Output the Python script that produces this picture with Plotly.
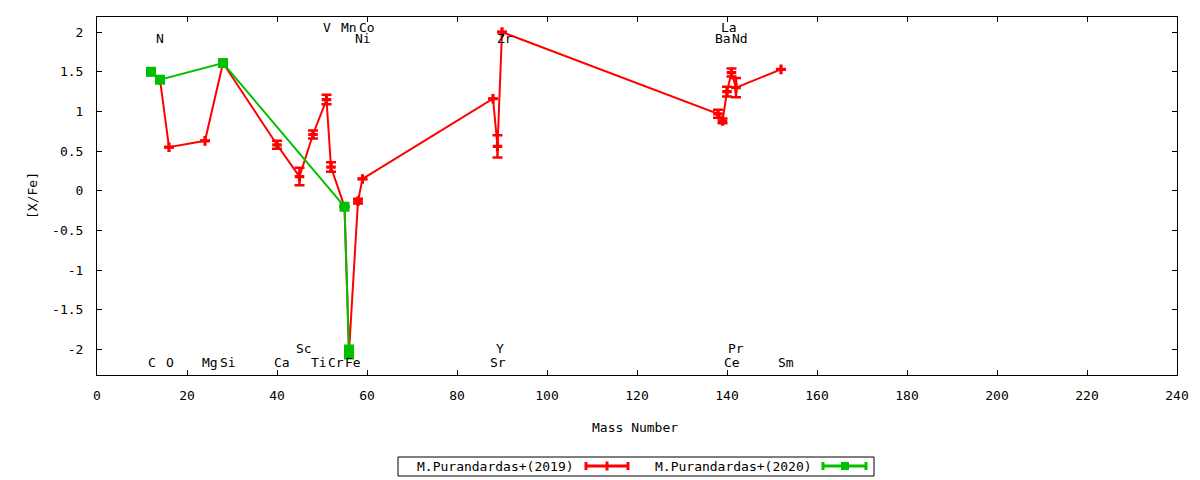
import plotly.graph_objects as go

# ---- data ----
mass_2019 = [12, 14, 16, 24, 28, 40, 45, 48, 51, 52, 55, 56, 58, 59, 88, 89, 90,
             138, 139, 140, 141, 142, 152]
xfe_2019 = [1.50, 1.40, 0.55, 0.63, 1.61, 0.58, 0.18, 0.71, 1.15, 0.30, -0.20, -2.03,
            -0.13, 0.15, 1.16, 0.56, 2.00, 0.97, 0.88, 1.25, 1.49, 1.30, 1.53]
err_2019 = [0.0, 0.0, 0.0, 0.0, 0.0, 0.05, 0.11, 0.05, 0.06, 0.06, 0.0, 0.05,
            0.03, 0.0, 0.0, 0.14, 0.0, 0.05, 0.03, 0.06, 0.05, 0.12, 0.0]

mass_2020 = [12, 14, 28, 55, 56]
xfe_2020 = [1.50, 1.40, 1.61, -0.20, -2.03]
err_2020 = [0.0, 0.0, 0.0, 0.0, 0.08]

# element labels (text, x position in mass units, y position in [X/Fe])
label_text = ["C", "O", "Mg", "Si", "Ca", "Ti", "Cr", "Fe", "Sr", "Ce", "Sm",
              "Sc", "Y", "Pr",
              "V", "Mn", "Co", "La",
              "N", "Ni", "Zr", "Ba", "Nd"]
label_x = [12.2, 16.3, 25.2, 29.1, 41.1, 49.4, 53.2, 56.9, 89.0, 141.0, 153.2,
           45.9, 89.5, 142.1,
           51.2, 56.1, 60.1, 140.5,
           14.1, 59.0, 90.7, 139.0, 142.9]
label_y = [-2.16] * 11 + [-1.99] * 3 + [2.06] * 4 + [1.92] * 5

series_names = ["M.Purandardas+(2019)", "M.Purandardas+(2020)"]
RED = "#ff0000"
GREEN = "#00c000"
FONT = "DejaVu Sans Mono"

fig = go.Figure()

fig.add_trace(go.Scatter(
    x=mass_2019, y=xfe_2019, mode="lines+markers", name=series_names[0],
    line=dict(color=RED, width=2),
    marker=dict(symbol="cross", size=8, color=RED),
    error_y=dict(type="data", array=err_2019, color=RED, thickness=2.5, width=5),
    showlegend=False,
))
fig.add_trace(go.Scatter(
    x=mass_2020, y=xfe_2020, mode="lines+markers", name=series_names[1],
    line=dict(color=GREEN, width=2),
    marker=dict(symbol="square", size=10, color=GREEN),
    error_y=dict(type="data", array=err_2020, color=GREEN, thickness=2.5, width=5),
    showlegend=False,
))

for t, lx, ly in zip(label_text, label_x, label_y):
    fig.add_annotation(x=lx, y=ly, text=t, showarrow=False, xref="x", yref="y",
                       font=dict(family=FONT, size=13, color="black"),
                       xanchor="center", yanchor="middle")

# page is shown with an 8px body margin; plot area in page pixels
OFF = 8
L, R, T, B = 97, 1177, 17, 375
W, H = R - L, B - T
FIG_W, FIG_H = 1200 - OFF, 480 - OFF


def px(xp):
    return (xp - L) / W


def py(yp):
    return (B - yp) / H


# axis titles
fig.add_annotation(x=px(635), y=py(427), xref="paper", yref="paper", text="Mass Number",
                   showarrow=False, font=dict(family=FONT, size=13, color="black"),
                   xanchor="center", yanchor="middle")
fig.add_annotation(x=px(32), y=py(196), xref="paper", yref="paper", text="[X/Fe]",
                   showarrow=False, textangle=-90,
                   font=dict(family=FONT, size=13, color="black"),
                   xanchor="center", yanchor="middle")

# manual gnuplot-style legend (text first, then sample)
shapes = []
shapes.append(dict(type="rect", xref="paper", yref="paper",
                   x0=px(398), x1=px(874), y0=py(476), y1=py(457),
                   line=dict(color="black", width=1), fillcolor="rgba(0,0,0,0)"))
ly = 466
for name, col, tx_right, s0, s1, mc, sym in [
        (series_names[0], RED, 576, 586, 628, 607, "cross"),
        (series_names[1], GREEN, 814, 823, 866, 845, "square")]:
    fig.add_annotation(x=px(tx_right), y=py(ly), xref="paper", yref="paper", text=name,
                       showarrow=False, xanchor="right", yanchor="middle",
                       font=dict(family=FONT, size=13, color="black"))
    shapes.append(dict(type="line", xref="paper", yref="paper",
                       x0=px(s0), x1=px(s1), y0=py(ly), y1=py(ly),
                       line=dict(color=col, width=3)))
    for cx in (s0, s1):
        shapes.append(dict(type="line", xref="paper", yref="paper",
                           x0=px(cx), x1=px(cx), y0=py(ly - 4), y1=py(ly + 4),
                           line=dict(color=col, width=3)))
    if sym == "cross":
        shapes.append(dict(type="rect", xref="paper", yref="paper",
                           x0=px(mc - 1.5), x1=px(mc + 1.5), y0=py(ly + 4.5), y1=py(ly - 4.5),
                           line=dict(width=0), fillcolor=col))
    else:
        shapes.append(dict(type="rect", xref="paper", yref="paper",
                           x0=px(mc - 4), x1=px(mc + 4), y0=py(ly + 4), y1=py(ly - 4),
                           line=dict(width=0), fillcolor=col))

fig.update_layout(
    width=FIG_W, height=FIG_H,
    margin=dict(l=L - OFF, r=FIG_W - (R - OFF), t=T - OFF, b=FIG_H - (B - OFF), pad=0),
    paper_bgcolor="white", plot_bgcolor="white",
    font=dict(family=FONT, size=13, color="black"),
    shapes=shapes,
    showlegend=False,
)
fig.update_xaxes(range=[0, 240], tick0=0, dtick=20, ticks="inside", ticklen=5,
                 tickcolor="black", showline=True, linecolor="black", linewidth=1,
                 mirror="ticks", showgrid=False, zeroline=False,
                 ticklabelstandoff=8, tickfont=dict(family=FONT, size=13))
fig.update_yaxes(range=[-2.32, 2.19], tickvals=[-2, -1.5, -1, -0.5, 0, 0.5, 1, 1.5, 2],
                 ticktext=["-2", "-1.5", "-1", "-0.5", "0", "0.5", "1", "1.5", "2"],
                 ticks="inside", ticklen=5,
                 tickcolor="black", showline=True, linecolor="black", linewidth=1,
                 mirror="ticks", showgrid=False, zeroline=False,
                 ticklabelstandoff=10, tickfont=dict(family=FONT, size=13))

fig.write_html("out.html")
